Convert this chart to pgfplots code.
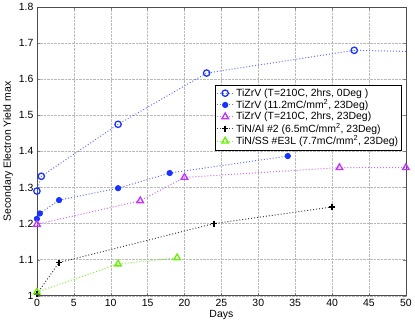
\documentclass[border=0pt]{standalone}
\usepackage{fontspec}
\setmainfont{Liberation Sans}
\usepackage{pgfplots}
\pgfplotsset{compat=1.18}

\definecolor{cblue}{rgb}{0.1,0.2,1}
\definecolor{cviolet}{rgb}{0.75,0.2,1}
\definecolor{cgreen}{rgb}{0.4,0.95,0}

\begin{document}
\begin{tikzpicture}
\begin{axis}[
    scale only axis,
    width=369.7bp, height=289.3bp,
    xmin=0, xmax=50, ymin=1, ymax=1.8,
    xtick={0,5,...,50},
    ytick={1,1.1,...,1.8},
    yticklabels={1,1.1,1.2,1.3,1.4,1.5,1.6,1.7,1.8},
    tick align=inside,
    major tick length=3pt,
    grid=major,
    major grid style={gray!55, densely dotted, line width=0.4pt},
    axis line style={black!70, line width=0.6pt},
    xlabel={Days},
    ylabel={Secondary Electron Yield max},
    xlabel style={yshift=3pt},
    ylabel style={yshift=-1pt},
    font=\fontsize{10.5}{12}\selectfont,
    tick label style={font=\fontsize{10.5}{12}\selectfont},
    /pgf/number format/assume math mode=true,
    legend style={at={(0.989,0.73)}, anchor=north east, draw=black,
        font=\fontsize{10.5}{12}\selectfont, row sep=-2pt,
        inner sep=1.5pt, cells={anchor=west}},
    legend cell align=left,
    every axis plot/.append style={dotted, line width=1pt},
]

% TiZrV (T=210C, 2hrs, 0Deg)
\addplot[color=cblue!70,
    mark=o, mark size=3.2pt,
    mark options={solid, color=cblue, line width=1.3pt}] coordinates {
(0,1.290) (0.6,1.331) (11,1.475) (23,1.617) (43,1.680)
};
\addlegendentry{TiZrV (T=210C, 2hrs, 0Deg )}
\addplot[color=cblue!70, forget plot] coordinates {(43,1.680) (50,1.677)};

% TiZrV (11.2mC/mm2, 23Deg)
\addplot[color=cblue!70,
    mark=*, mark size=2.6pt,
    mark options={solid, color=cblue, fill=cblue}] coordinates {
(0,1.213) (0.4,1.228) (3,1.265) (11,1.298) (18,1.340) (34,1.387)
};
\addlegendentry{TiZrV (11.2mC/mm\textsuperscript{2}, 23Deg)}

% TiZrV (T=210C, 2hrs, 23Deg)
\addplot[color=cviolet!75,
    mark=triangle, mark size=3.8pt,
    mark options={solid, color=cviolet, line width=1.3pt}] coordinates {
(0,1.198) (14,1.263) (20,1.328) (41,1.355) (50,1.355)
};
\addlegendentry{TiZrV (T=210C, 2hrs, 23Deg)}

% TiN/Al #2
\addplot[color=black!75,
    mark=+, mark size=3pt,
    mark options={solid, color=black, line width=1.4pt}] coordinates {
(0,1.005) (3,1.092) (24,1.200) (40,1.246)
};
\addlegendentry{TiN/Al \#2 (6.5mC/mm\textsuperscript{2}, 23Deg)}

% TiN/SS #E3L
\addplot[color=cgreen!85,
    mark=triangle, mark size=3.8pt,
    mark options={solid, color=cgreen, line width=1.3pt}] coordinates {
(0,1.010) (11,1.088) (19,1.105)
};
\addlegendentry{TiN/SS \#E3L (7.7mC/mm\textsuperscript{2}, 23Deg)}

\end{axis}
\end{tikzpicture}
\end{document}
